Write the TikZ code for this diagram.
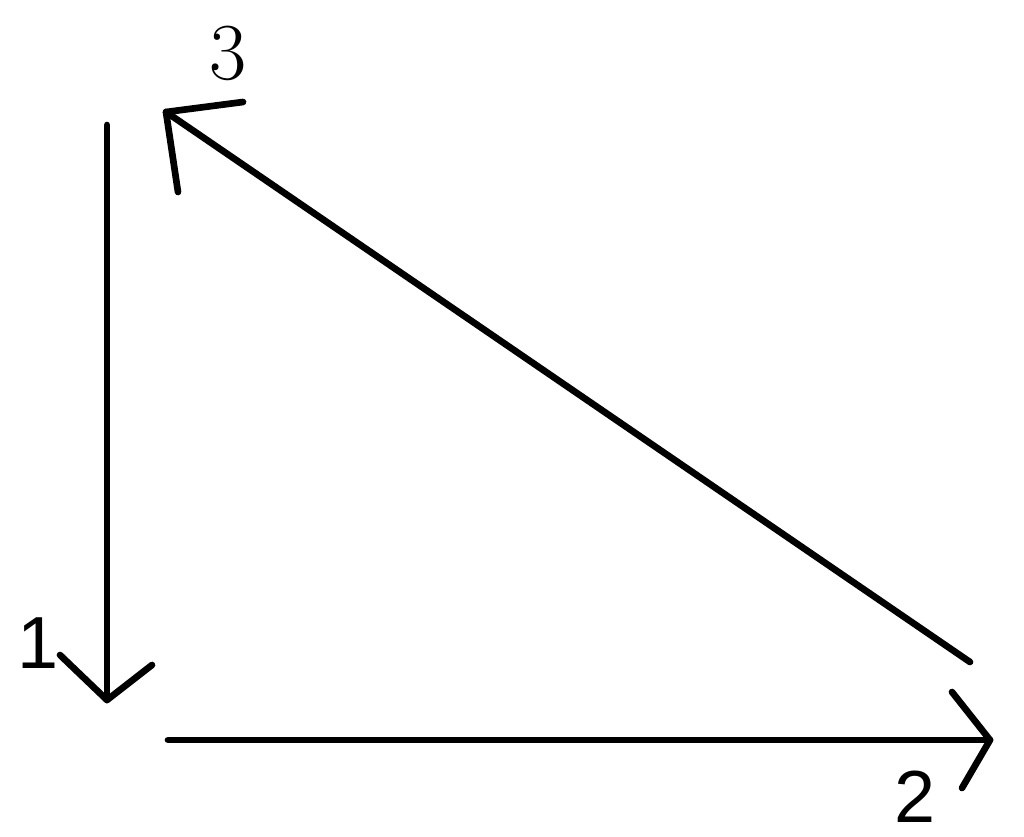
\documentclass[tikz,border=0pt]{standalone}
\usepackage{fontspec}
\newfontfamily\labsans{Liberation Sans}
\begin{document}
\begin{tikzpicture}[x=0.02cm,y=-0.02cm,
  stroke/.style={line width=3.8pt,line cap=round,line join=round,black},
  numlabel/.style={inner sep=0pt,font=\fontsize{46}{46}\selectfont},
  sanslabel/.style={inner sep=0pt,font=\labsans\fontsize{42}{42}\selectfont}]
\useasboundingbox (0,0) rectangle (1024,836);
% arrow 1 (vertical, down)
\coordinate (s1) at (107,125);
\coordinate (t1) at (107,700);
\coordinate (b1a) at (60,655);
\coordinate (b1b) at (152,665);
\draw[stroke] (s1) -- (t1);
\draw[stroke] (b1a) -- (t1) -- (b1b);
% arrow 2 (horizontal, right)
\coordinate (s2) at (168,740);
\coordinate (t2) at (990,740);
\coordinate (b2a) at (952,692);
\coordinate (b2b) at (962,788);
\draw[stroke] (s2) -- (t2);
\draw[stroke] (b2a) -- (t2) -- (b2b);
% arrow 3 (diagonal, up-left)
\coordinate (s3) at (970,662);
\coordinate (t3) at (166,112);
\coordinate (b3a) at (243,102);
\coordinate (b3b) at (178,192);
\draw[stroke] (s3) -- (t3);
\draw[stroke] (b3a) -- (t3) -- (b3b);
% labels
\node[numlabel] (l3) at (228,53) {3};
\node[sanslabel] (l1) at (38,643) {1};
\node[sanslabel] (l2) at (915,797) {2};
\end{tikzpicture}
\end{document}
